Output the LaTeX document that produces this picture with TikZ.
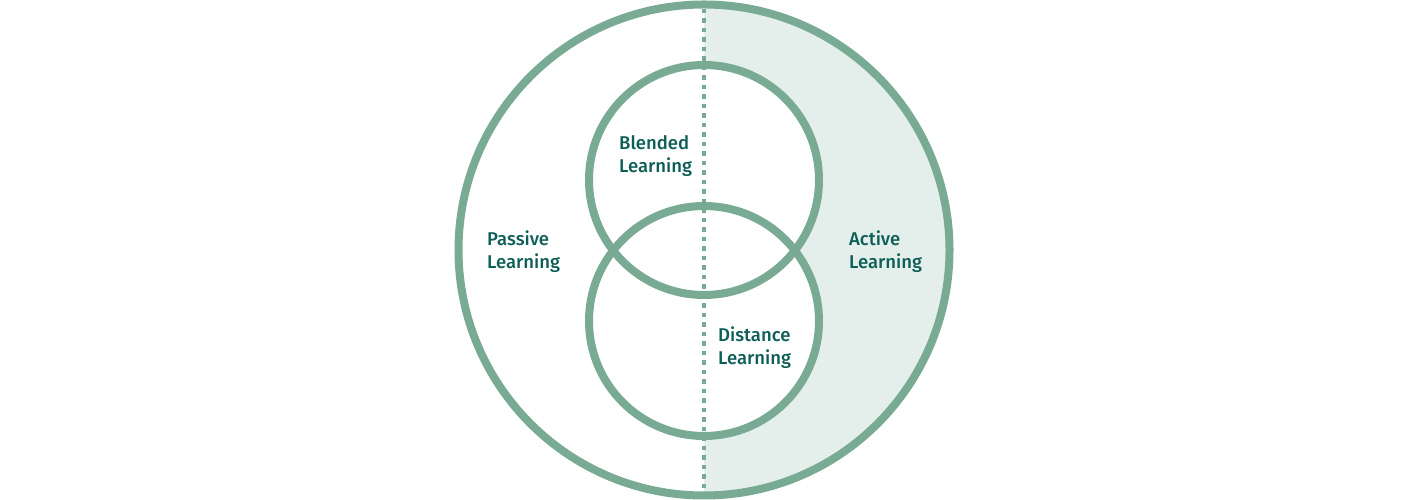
\documentclass[tikz,border=0pt]{standalone}
\usepackage{fontspec}
\setmainfont{Fira Sans}[UprightFont=* Medium]
\usepackage{xcolor}
\usepackage{tikz}
\usetikzlibrary{positioning}

\definecolor{ringgreen}{HTML}{78AA94}
\definecolor{shadegreen}{HTML}{E4EFEC}
\definecolor{textteal}{HTML}{0E5E58}

\tikzset{
  ring/.style={draw=ringgreen, line width=8pt},
  divider/.style={draw=ringgreen, line width=4.5pt, dash pattern=on 4.5pt off 5pt},
  label/.style={anchor=north west, inner sep=0pt, align=left, text=textteal,
    font=\fontsize{18.5}{23}\selectfont}
}

\begin{document}
\begin{tikzpicture}[x=1pt,y=1pt]
\useasboundingbox (0,0) rectangle (1408,500);
\coordinate (O) at (704,250);
\coordinate (B) at (704,320);
\coordinate (D) at (704,179);
\coordinate (top) at (704,491);
\coordinate (bot) at (704,4);

% active half
\begin{scope}
\clip (704,0) rectangle (1000,500);
\fill[shadegreen] (O) circle (245.5);
\end{scope}
\fill[white] (B) circle (115);
\fill[white] (D) circle (115);

\draw[divider] (top) -- (bot);

\draw[ring] (O) circle (245.5);
\draw[ring] (B) circle (115);
\draw[ring] (D) circle (115);

\node[label] (passive) at (487,269.5) {Passive\\Learning};
\node[label] (blended) at (619,364.5) {Blended\\Learning};
\node[label] (distance) at (718,173.5) {Distance\\Learning};
\node[label] (active) at (849,269.5) {Active\\Learning};
\end{tikzpicture}
\end{document}
